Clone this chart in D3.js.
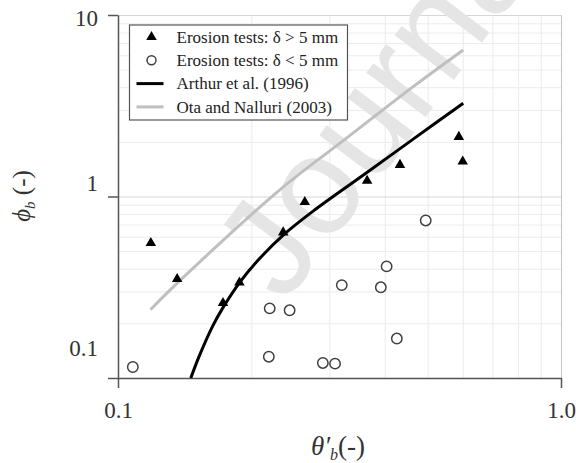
<!DOCTYPE html>
<html>
<head>
<meta charset="utf-8">
<script src="https://cdn.jsdelivr.net/npm/d3@7"></script>
<style>
  body { margin: 0; background: #fff; }
  svg { display: block; font-family: "Liberation Serif", "Times New Roman", serif; }
</style>
</head>
<body>
<div id="chart"></div>
<script>
// erosion tests, delta > 5 mm
const bigX = [0.1186, 0.136, 0.1726, 0.188, 0.236, 0.264, 0.365, 0.433, 0.588, 0.600];
const bigY = [0.554, 0.351, 0.259, 0.336, 0.634, 0.932, 1.22, 1.494, 2.13, 1.558];
// erosion tests, delta < 5 mm
const smallX = [0.108, 0.220, 0.244, 0.219, 0.290, 0.309, 0.320, 0.392, 0.404, 0.426, 0.495];
const smallY = [0.115, 0.242, 0.236, 0.131, 0.121, 0.120, 0.325, 0.316, 0.412, 0.165, 0.738];
// Arthur et al. (1996)
const arthurX = [0.146, 0.153, 0.1639, 0.1727, 0.1883, 0.209, 0.236, 0.2757, 0.364, 0.4638, 0.6016];
const arthurY = [0.100, 0.1345, 0.1951, 0.2449, 0.3367, 0.4563, 0.6131, 0.8311, 1.352, 2.070, 3.266];
// Ota and Nalluri (2003)
const otaX = [0.1184, 0.1379, 0.2319, 0.328, 0.4638, 0.6016];
const otaY = [0.2379, 0.3436, 1.089, 2.096, 4.03, 6.42];

const xTicks = [0.1, 1];
const yTicks = [0.1, 1, 10];
const legendLabels = ["Erosion tests: δ > 5 mm", "Erosion tests: δ < 5 mm", "Arthur et al. (1996)", "Ota and Nalluri (2003)"];

const W = 576, H = 463;
const margin = { top: 15, right: 15, bottom: 85, left: 118 };
const width = 561 - margin.left;
const height = 378 - margin.top;
const serif = "'Liberation Serif', 'Times New Roman', serif";

const x = d3.scaleLog().domain([0.1, 1]).range([0, width]);
const y = d3.scaleLog().domain([0.1, 10]).range([height, 0]);
// the tick labels in the picture sit on their own spacing
const yLab = d3.scaleLog().domain([0.1, 10]).range([355 - margin.top, 25 - margin.top]);

const svg = d3.select("#chart").append("svg")
  .attr("width", W).attr("height", H)
  .append("g")
  .attr("transform", `translate(${margin.left},${margin.top})`);

// minor grid
svg.append("g")
  .call(d3.axisBottom(x).tickValues(x.ticks().filter(d => xTicks.indexOf(d) < 0)).tickSize(-height).tickFormat(""))
  .attr("transform", `translate(0,${height})`)
  .call(g => g.select(".domain").remove())
  .call(g => g.selectAll("line").attr("stroke", "#ebebeb"));
svg.append("g")
  .call(d3.axisLeft(y).tickValues(y.ticks().filter(d => yTicks.indexOf(d) < 0)).tickSize(-width).tickFormat(""))
  .call(g => g.select(".domain").remove())
  .call(g => g.selectAll("line").attr("stroke", "#ebebeb"));
// major grid
svg.append("g")
  .call(d3.axisLeft(y).tickValues([1, 10]).tickSize(-width).tickFormat(""))
  .call(g => g.select(".domain").remove())
  .call(g => g.selectAll("line").attr("stroke", "#d6d6d6"));
svg.append("g")
  .call(d3.axisBottom(x).tickValues([1]).tickSize(-height).tickFormat(""))
  .attr("transform", `translate(0,${height})`)
  .call(g => g.select(".domain").remove())
  .call(g => g.selectAll("line").attr("stroke", "#c4c4c4"));

// watermark
svg.append("text")
  .attr("transform", "translate(166,290) rotate(-53)")
  .style("font-family", "'Liberation Sans', Arial, sans-serif")
  .style("font-size", "140px")
  .attr("fill", "#e5e5e5")
  .text("Journal");

// axes
const axisColor = "#555";
const xAxis = svg.append("g")
  .attr("transform", `translate(0,${height})`)
  .call(d3.axisBottom(x).tickValues(xTicks).tickSize(10).tickSizeOuter(0)
    .tickFormat(d3.format(".1f")));
const yAxis = svg.append("g")
  .call(d3.axisLeft(y).tickValues(yTicks).tickSize(10).tickSizeOuter(0)
    .tickFormat(d => d < 1 ? d3.format(".1f")(d) : d3.format("d")(d)));
[xAxis, yAxis].forEach(g => {
  g.select(".domain").attr("stroke", axisColor).attr("stroke-width", 1.5);
  g.selectAll("line").attr("stroke", axisColor).attr("stroke-width", 1.5);
  g.selectAll("text").attr("fill", "#333").style("font-size", "23px")
    .style("font-family", serif);
});
xAxis.selectAll("text").attr("y", 40).attr("dy", 0);
yAxis.selectAll("text").attr("x", -20).attr("dy", 0).attr("y", d => yLab(d) - y(d));

// curves
const line = d3.line().curve(d3.curveCatmullRom.alpha(0.5)).x(d => x(d[0])).y(d => y(d[1]));
svg.append("path")
  .datum(otaX.map((v, i) => [v, otaY[i]]))
  .attr("d", line).attr("fill", "none").attr("stroke", "#bfbfbf").attr("stroke-width", 3);
svg.append("path")
  .datum(arthurX.map((v, i) => [v, arthurY[i]]))
  .attr("d", line).attr("fill", "none").attr("stroke", "#000").attr("stroke-width", 3);

// points
const tri = d3.symbol().type(d3.symbolTriangle).size(48);
svg.append("g").selectAll("path")
  .data(bigX.map((v, i) => [v, bigY[i]]))
  .join("path")
  .attr("d", tri)
  .attr("transform", d => `translate(${x(d[0])},${y(d[1])})`)
  .attr("fill", "#000");
svg.append("g").selectAll("circle")
  .data(smallX.map((v, i) => [v, smallY[i]]))
  .join("circle")
  .attr("cx", d => x(d[0])).attr("cy", d => y(d[1])).attr("r", 5.2)
  .attr("fill", "#fff").attr("stroke", "#404040").attr("stroke-width", 1.5);

// legend
const lg = svg.append("g").attr("transform", `translate(${129.5 - margin.left},${25 - margin.top})`);
lg.append("rect").attr("width", 218).attr("height", 95)
  .attr("fill", "#fff").attr("stroke", "#555").attr("stroke-width", 1.2);
const rowY = i => 12 + i * 23.3;
lg.append("path").attr("d", tri).attr("transform", `translate(22,${rowY(0)})`).attr("fill", "#000");
lg.append("circle").attr("cx", 22).attr("cy", rowY(1)).attr("r", 4.5)
  .attr("fill", "#fff").attr("stroke", "#404040").attr("stroke-width", 1.5);
lg.append("line").attr("x1", 7).attr("x2", 34).attr("y1", rowY(2)).attr("y2", rowY(2))
  .attr("stroke", "#000").attr("stroke-width", 3);
lg.append("line").attr("x1", 7).attr("x2", 34).attr("y1", rowY(3)).attr("y2", rowY(3))
  .attr("stroke", "#bfbfbf").attr("stroke-width", 3);
lg.selectAll("text.lab").data(legendLabels).join("text")
  .attr("class", "lab")
  .attr("x", 47).attr("y", (d, i) => rowY(i)).attr("dy", "0.33em")
  .style("font-size", "17px").style("font-family", serif).attr("fill", "#222")
  .text(d => d);

// axis titles
const xt = svg.append("text")
  .attr("x", 338 - margin.left).attr("y", 455 - margin.top)
  .attr("text-anchor", "middle").style("font-size", "27px").style("font-family", serif).attr("fill", "#333");
xt.append("tspan").style("font-style", "italic").text("θ′");
xt.append("tspan").style("font-style", "italic").style("font-size", "16px").attr("dy", 5).text("b");
xt.append("tspan").attr("dy", -5).text("(-)");

const yt = svg.append("text")
  .attr("transform", `translate(${30 - margin.left},${196 - margin.top}) rotate(-90)`)
  .attr("text-anchor", "middle").style("font-size", "25px").style("font-family", serif).attr("fill", "#333");
yt.append("tspan").style("font-style", "italic").text("ϕ");
yt.append("tspan").style("font-style", "italic").style("font-size", "15px").attr("dy", 5).text("b");
yt.append("tspan").attr("dy", -5).text(" (-)");
</script>
</body>
</html>
